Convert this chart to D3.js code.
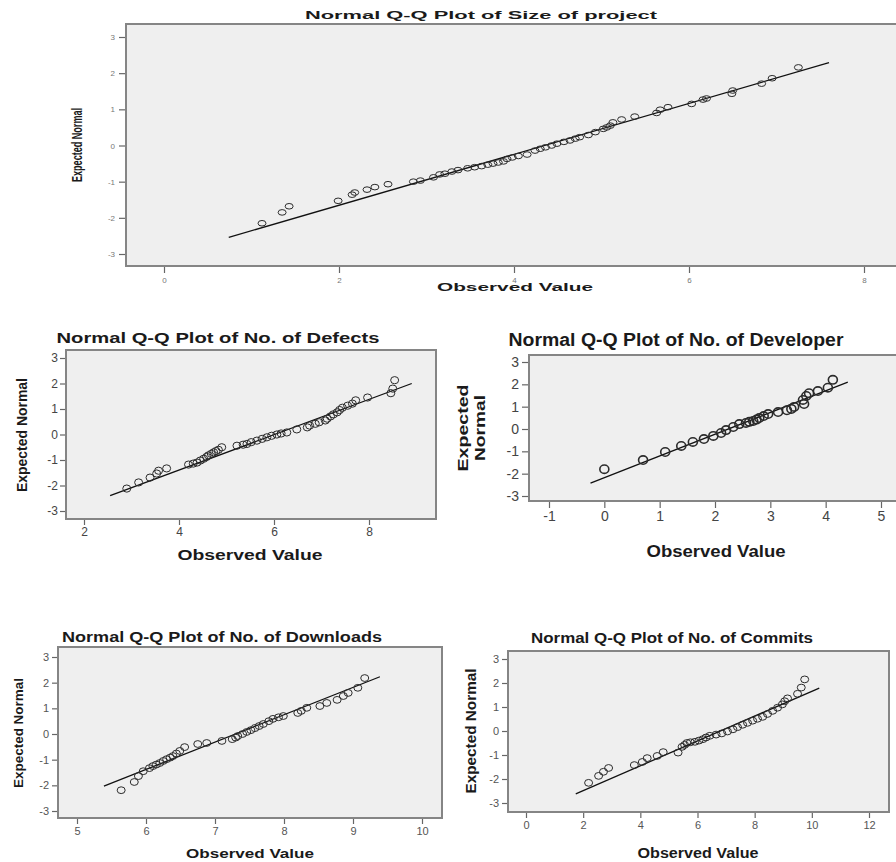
<!DOCTYPE html>
<html>
<head>
<meta charset="utf-8">
<script src="https://cdn.jsdelivr.net/npm/d3@7"></script>
<style>
body { margin: 0; background: #fff; }
text { font-family: "Liberation Sans", Arial, sans-serif; }
</style>
</head>
<body>
<svg id="chart" width="896" height="862"></svg>
<script>

// expected normal axis is the same for every plot
const yTicks = [-3, -2, -1, 0, 1, 2, 3];

// Size of project
const sizeObserved = [1.12,1.35,1.43,1.99,2.15,2.18,2.32,2.41,2.56,2.85,2.93,3.08,3.15,3.21,3.29,3.36,3.47,3.55,3.63,3.70,3.76,3.82,3.88,3.92,3.98,4.05,4.15,4.24,4.30,4.36,4.43,4.49,4.57,4.64,4.70,4.75,4.85,4.93,5.02,5.06,5.10,5.13,5.23,5.38,5.63,5.67,5.76,6.03,6.16,6.20,6.49,6.50,6.83,6.95,7.25];
const sizeExpected = [-2.15,-1.85,-1.68,-1.53,-1.36,-1.30,-1.22,-1.15,-1.07,-1.00,-0.97,-0.88,-0.80,-0.78,-0.72,-0.68,-0.63,-0.60,-0.57,-0.53,-0.50,-0.47,-0.44,-0.37,-0.33,-0.29,-0.25,-0.14,-0.09,-0.05,0.00,0.05,0.10,0.14,0.19,0.23,0.29,0.37,0.46,0.50,0.55,0.64,0.72,0.80,0.90,0.99,1.06,1.15,1.27,1.30,1.43,1.52,1.71,1.86,2.16];
const sizeLine = [[0.74, -2.54], [7.6, 2.29]];
const sizeTicks = [0, 2, 4, 6, 8];

// No. of Defects
const defectsObserved = [2.9,3.15,3.39,3.53,3.57,3.74,4.2,4.3,4.38,4.45,4.52,4.58,4.62,4.68,4.73,4.78,4.83,4.9,5.22,5.35,5.43,5.52,5.64,5.75,5.85,5.95,6.06,6.15,6.27,6.48,6.7,6.75,6.87,6.95,7.08,7.12,7.19,7.25,7.33,7.38,7.44,7.55,7.65,7.72,7.97,8.46,8.5,8.54];
const defectsExpected = [-2.12,-1.88,-1.69,-1.53,-1.42,-1.33,-1.18,-1.14,-1.10,-1.02,-0.95,-0.88,-0.82,-0.76,-0.70,-0.65,-0.60,-0.50,-0.44,-0.40,-0.37,-0.30,-0.24,-0.17,-0.11,-0.05,0.0,0.04,0.08,0.2,0.28,0.35,0.42,0.48,0.55,0.62,0.71,0.79,0.87,0.96,1.05,1.13,1.21,1.34,1.45,1.62,1.8,2.13];
const defectsLine = [[2.55, -2.40], [8.9, 2.0]];
const defectsTicks = [2, 4, 6, 8];

// No. of Developer
const developerObserved = [0,0.70,1.1,1.39,1.6,1.8,1.97,2.11,2.2,2.33,2.44,2.56,2.62,2.69,2.75,2.8,2.88,2.96,3.14,3.3,3.38,3.43,3.61,3.59,3.65,3.7,3.86,4.04,4.13];
const developerExpected = [-1.8,-1.39,-1.03,-0.76,-0.58,-0.45,-0.31,-0.18,-0.05,0.09,0.22,0.27,0.32,0.36,0.42,0.49,0.58,0.67,0.76,0.84,0.9,0.99,1.12,1.3,1.48,1.6,1.7,1.85,2.2];
const developerLine = [[-0.25, -2.42], [4.4, 2.1]];
const developerTicks = [-1, 0, 1, 2, 3, 4, 5];

// No. of Downloads
const downloadsObserved = [5.64,5.83,5.89,5.96,6.05,6.10,6.15,6.2,6.25,6.3,6.35,6.39,6.44,6.49,6.56,6.75,6.88,7.1,7.25,7.3,7.33,7.4,7.46,7.52,7.58,7.64,7.70,7.78,7.84,7.92,7.99,8.2,8.25,8.33,8.52,8.62,8.77,8.86,8.93,9.07,9.17];
const downloadsExpected = [-2.19,-1.87,-1.64,-1.45,-1.33,-1.25,-1.19,-1.13,-1.05,-0.98,-0.92,-0.86,-0.76,-0.66,-0.51,-0.39,-0.35,-0.27,-0.2,-0.14,-0.08,0.0,0.08,0.15,0.23,0.31,0.39,0.5,0.59,0.65,0.70,0.82,0.9,1.02,1.09,1.21,1.33,1.48,1.6,1.8,2.18];
const downloadsLine = [[5.39, -2.03], [9.39, 2.23]];
const downloadsTicks = [5, 6, 7, 8, 9, 10];

// No. of Commits
const commitsObserved = [2.19,2.54,2.71,2.89,3.79,4.07,4.24,4.59,4.8,5.32,5.46,5.55,5.63,5.75,5.91,6.05,6.19,6.3,6.43,6.65,6.85,7.05,7.24,7.4,7.58,7.75,7.93,8.1,8.28,8.45,8.63,8.8,8.97,9.05,9.15,9.5,9.63,9.75];
const commitsExpected = [-2.16,-1.87,-1.7,-1.54,-1.42,-1.29,-1.13,-1.04,-0.88,-0.9,-0.66,-0.58,-0.5,-0.47,-0.45,-0.4,-0.34,-0.27,-0.2,-0.15,-0.1,-0.02,0.07,0.16,0.26,0.34,0.43,0.51,0.59,0.71,0.84,0.97,1.11,1.24,1.36,1.55,1.81,2.15];
const commitsLine = [[1.74, -2.62], [10.26, 1.79]];
const commitsTicks = [0, 2, 4, 6, 8, 10, 12];

const narrow = '"Liberation Sans Narrow", "Arial Narrow", "Liberation Sans", sans-serif';

const panels = [
    {title: "Normal Q-Q Plot of Size of project", obs: sizeObserved, exp: sizeExpected, line: sizeLine, ticks: sizeTicks,
     xDom: [0, 8], xRange: [164, 864], yRange: [254, 37], box: [126, 24, 900, 266],
     titleX: 481, titleY: 19, titleSize: 11, titleLen: 352, titleFont: null,
     xLabX: 515, xLabY: 291, xLabSize: 10, xLabLen: 156,
     yLab: ["Expected Normal"], yLabX: 77, yLabY: 145, yLabSize: 15, yLabLen: [74], yLabFont: narrow,
     tickSize: 8, tickColor: "#777", tickFont: null, tickLen: 6, tickPad: 4,
     rx: 4, ry: 2.8, mstroke: 1},
    {title: "Normal Q-Q Plot of No. of Defects", obs: defectsObserved, exp: defectsExpected, line: defectsLine, ticks: defectsTicks,
     xDom: [2, 8], xRange: [84, 369], yRange: [511, 358], box: [66, 350, 436, 519],
     titleX: 218, titleY: 343, titleSize: 15, titleLen: 323, titleFont: null,
     xLabX: 250, xLabY: 560, xLabSize: 14, xLabLen: 145,
     yLab: ["Expected Normal"], yLabX: 22, yLabY: 435, yLabSize: 14, yLabLen: [114], yLabFont: null,
     tickSize: 12, tickColor: "#444", tickFont: null, tickLen: 5, tickPad: 2,
     rx: 4, ry: 3.6, mstroke: 1},
    {title: "Normal Q-Q Plot of No. of Developer", obs: developerObserved, exp: developerExpected, line: developerLine, ticks: developerTicks,
     xDom: [-1, 5], xRange: [549, 881], yRange: [496, 362], box: [529, 355, 905, 501],
     titleX: 676, titleY: 346, titleSize: 18, titleLen: 335, titleFont: narrow,
     xLabX: 716, xLabY: 557, xLabSize: 16, xLabLen: 139,
     yLab: ["Expected", "Normal"], yLabX: 471, yLabY: 428, yLabSize: 15, yLabLen: [87, 66], yLabFont: null,
     tickSize: 14, tickColor: "#444", tickFont: narrow, tickLen: 6, tickPad: 3,
     rx: 4.5, ry: 4.2, mstroke: 1.6},
    {title: "Normal Q-Q Plot of No. of Downloads", obs: downloadsObserved, exp: downloadsExpected, line: downloadsLine, ticks: downloadsTicks,
     xDom: [5, 10], xRange: [77, 422], yRange: [811, 657], box: [58, 647, 442, 818],
     titleX: 222, titleY: 642, titleSize: 14, titleLen: 320, titleFont: null,
     xLabX: 250, xLabY: 858, xLabSize: 13, xLabLen: 128,
     yLab: ["Expected Normal"], yLabX: 18, yLabY: 733, yLabSize: 13, yLabLen: [110], yLabFont: null,
     tickSize: 11, tickColor: "#555", tickFont: null, tickLen: 5, tickPad: 3,
     rx: 4, ry: 3.4, mstroke: 1},
    {title: "Normal Q-Q Plot of No. of Commits", obs: commitsObserved, exp: commitsExpected, line: commitsLine, ticks: commitsTicks,
     xDom: [0, 12], xRange: [526, 869], yRange: [803, 659], box: [508, 651, 889, 812],
     titleX: 672, titleY: 643, titleSize: 14, titleLen: 282, titleFont: null,
     xLabX: 698, xLabY: 858, xLabSize: 14, xLabLen: 121,
     yLab: ["Expected Normal"], yLabX: 471, yLabY: 731, yLabSize: 14, yLabLen: [125], yLabFont: null,
     tickSize: 11, tickColor: "#555", tickFont: null, tickLen: 5, tickPad: 3,
     rx: 4, ry: 3.4, mstroke: 1}
];

const svg = d3.select("#chart");

svg.append("rect").attr("width", 896).attr("height", 862).style("fill", "#fff");

panels.forEach(drawPanel);

function drawPanel (p) {

    const x = d3.scaleLinear().domain(p.xDom).range(p.xRange);
    const y = d3.scaleLinear().domain([-3, 3]).range(p.yRange);

    const g = svg.append("g").attr("class", "panel");

    g.append("rect")
        .attr("x", p.box[0]).attr("y", p.box[1])
        .attr("width", p.box[2] - p.box[0]).attr("height", p.box[3] - p.box[1])
        .style("fill", "#efefef").style("stroke", "#858585").style("stroke-width", 2);

    const xAxis = g.append("g")
        .attr("transform", `translate(0,${p.box[3] + 1})`)
        .call(d3.axisBottom(x).tickValues(p.ticks).tickSize(p.tickLen).tickPadding(p.tickPad).tickFormat(d => String(d)));

    const yAxis = g.append("g")
        .attr("transform", `translate(${p.box[0] - 1},0)`)
        .call(d3.axisLeft(y).tickValues(yTicks).tickSize(p.tickLen).tickPadding(p.tickPad).tickFormat(d => String(d)));

    [xAxis, yAxis].forEach(a => {
        a.select(".domain").remove();
        a.selectAll("line").style("stroke", "#666").style("stroke-width", 1.2);
        a.selectAll("text").style("fill", p.tickColor).style("font-size", p.tickSize + "px")
            .style("font-family", p.tickFont);
    });

    g.append("line")
        .attr("x1", x(p.line[0][0])).attr("y1", y(p.line[0][1]))
        .attr("x2", x(p.line[1][0])).attr("y2", y(p.line[1][1]))
        .style("stroke", "#111").style("stroke-width", 1.3);

    g.selectAll("ellipse.pt").data(d3.zip(p.obs, p.exp)).join("ellipse").attr("class", "pt")
        .attr("cx", d => x(d[0])).attr("cy", d => y(d[1]))
        .attr("rx", p.rx).attr("ry", p.ry)
        .style("fill", "none").style("stroke", "#2b2b2b").style("stroke-width", p.mstroke);

    g.append("text")
        .attr("x", p.titleX).attr("y", p.titleY)
        .attr("text-anchor", "middle")
        .attr("textLength", p.titleLen).attr("lengthAdjust", "spacingAndGlyphs")
        .style("font-size", p.titleSize + "px").style("font-weight", "bold")
        .style("font-family", p.titleFont).style("fill", "#1a1a1a")
        .text(p.title);

    g.append("text")
        .attr("x", p.xLabX).attr("y", p.xLabY)
        .attr("text-anchor", "middle")
        .attr("textLength", p.xLabLen).attr("lengthAdjust", "spacingAndGlyphs")
        .style("font-size", p.xLabSize + "px").style("font-weight", "bold").style("fill", "#1a1a1a")
        .text("Observed Value");

    const lineGap = p.yLab.length > 1 ? p.yLabSize * 1.15 : 0;

    p.yLab.forEach((lab, i) => {
        const cx = p.yLabX + (i - (p.yLab.length - 1) / 2) * lineGap;
        g.append("text")
            .attr("transform", `translate(${cx + p.yLabSize * 0.36},${p.yLabY}) rotate(-90)`)
            .attr("text-anchor", "middle")
            .attr("textLength", p.yLabLen[i]).attr("lengthAdjust", "spacingAndGlyphs")
            .style("font-size", p.yLabSize + "px").style("font-weight", "bold")
            .style("font-family", p.yLabFont).style("fill", "#1a1a1a")
            .text(lab);
    });
}
</script>
</body>
</html>
